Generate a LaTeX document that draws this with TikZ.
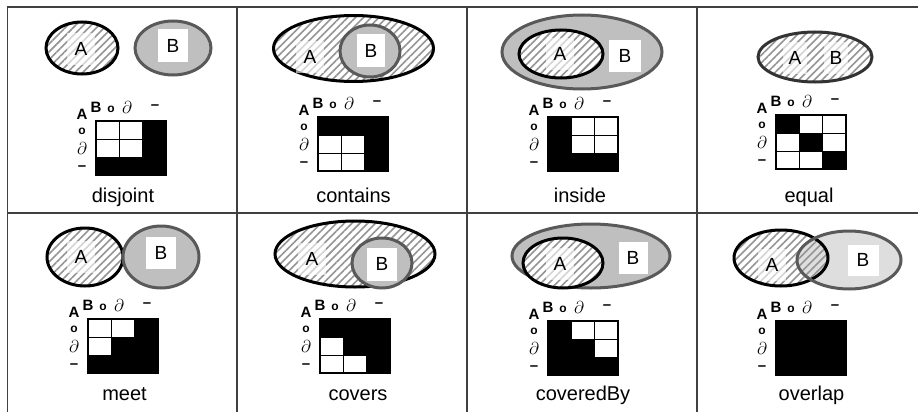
\documentclass[tikz,border=0pt]{standalone}
\usepackage{fontspec}
\setmainfont{Liberation Sans}
\usetikzlibrary{patterns.meta}

\tikzset{
  tableline/.style={line width=1.5pt, draw=black!75},
  bndA/.style={line width=3pt, draw=black},
  bndB/.style={line width=3pt, draw=black!65},
  hatch/.style={pattern={Lines[angle=45, distance=5.5pt, line width=1.6pt]}, pattern color=black!42},
  fillB/.style={fill=black!25},
  lblA/.style={fill=white, fill opacity=.6, text opacity=1, inner sep=0pt,
    minimum width=28pt, minimum height=32pt, font=\fontsize{19}{19}\selectfont},
  lblB/.style={fill=white, inner sep=0pt, minimum width=30pt, minimum height=33pt,
    font=\fontsize{19}{19}\selectfont},
  caption/.style={anchor=base, inner sep=0pt, font=\fontsize{20}{20}\selectfont},
  mlbl/.style={inner sep=0pt, text height=11.5pt, text depth=0pt,
    font=\bfseries\fontsize{15}{15}\selectfont},
  mlblo/.style={inner sep=0pt, text height=7pt, text depth=0pt,
    font=\bfseries\fontsize{12}{12}\selectfont},
  mlbld/.style={inner sep=0pt, text height=14pt, text depth=0.3pt,
    font=\fontsize{19}{19}\selectfont},
  mlblm/.style={inner sep=0pt, text height=6pt, text depth=0pt,
    font=\bfseries\fontsize{15}{15}\selectfont},
}

% 9-intersection matrix: name, top left x, top left y, black cells col/row
\newcommand{\ninecells}[4]{%
  \begin{scope}[shift={(#2,#3)}]
    \node[mlbl]  (#1-cB) at (0,-14) {B};
    \node[mlblo] (#1-co) at (15,-12) {o};
    \node[mlbld] (#1-cd) at (31,-14) {$\partial$};
    \node[mlblm] (#1-cm) at (59,-15) {–};
    \node[mlbl]  (#1-rA) at (-14,-7) {A};
    \node[mlblo] (#1-ro) at (-14,10) {o};
    \node[mlbld] (#1-rd) at (-14,27) {$\partial$};
    \node[mlblm] (#1-rm) at (-14,46) {–};
    \begin{scope}[x=23.33pt, y=-18pt]
      \foreach \c/\r in {#4} \fill (\c-1,\r-1) rectangle ++(1,1);
      \foreach \i in {1,2} {
        \draw[line width=1pt] (\i,0) -- (\i,3);
        \draw[line width=1pt] (0,\i) -- (3,\i);
      }
      \draw[line width=1.3pt] (0,0) rectangle (3,3);
    \end{scope}
  \end{scope}
}

\begin{document}
\begin{tikzpicture}[x=1pt, y=-1pt]
  \useasboundingbox (0,0) rectangle (918,412);

  % table
  \draw[tableline] (7.5,412) -- (7.5,7) -- (918,7);
  \draw[tableline] (7.5,213) -- (918,213);
  \foreach \x in {237,467,697} \draw[tableline] (\x,7) -- (\x,412);

  % disjoint
  \fill[white] (82,48) ellipse [x radius=36pt, y radius=26pt];
  \fill[hatch] (82,48) ellipse [x radius=36pt, y radius=26pt];
  \draw[bndA] (82,48) ellipse [x radius=36pt, y radius=26pt];
  \filldraw[fillB, bndB] (173,48) ellipse [x radius=38pt, y radius=27pt];
  \node[lblA] (disA) at (81,49) {A};
  \node[lblB] (disB) at (173,46) {B};
  \ninecells{dis}{96}{121}{3/1,3/2,1/3,2/3,3/3}
  \node[caption] (discap) at (123,202) {disjoint};

  % contains
  \fill[white] (353.5,48.5) ellipse [x radius=80pt, y radius=33pt];
  \fill[hatch] (353.5,48.5) ellipse [x radius=80pt, y radius=33pt];
  \draw[bndA] (353.5,48.5) ellipse [x radius=80pt, y radius=33pt];
  \filldraw[fillB, bndB] (370,51) ellipse [x radius=30pt, y radius=26pt];
  \node[lblA] (conA) at (310,57) {A};
  \node[lblB, minimum width=28pt] (conB) at (371,50.5) {B};
  \ninecells{con}{318}{117}{1/1,2/1,3/1,3/2,3/3}
  \node[caption] (concap) at (353.5,202) {contains};

  % inside
  \filldraw[fillB, bndB] (582,52) ellipse [x radius=80pt, y radius=37pt];
  \fill[white] (561,54) ellipse [x radius=42pt, y radius=24pt];
  \fill[hatch] (561,54) ellipse [x radius=42pt, y radius=24pt];
  \draw[bndA] (561,54) ellipse [x radius=42pt, y radius=24pt];
  \node[lblA] (insA) at (560,54) {A};
  \node[lblB, minimum width=32pt, minimum height=32pt] (insB) at (625,56) {B};
  \ninecells{ins}{548}{117}{1/1,1/2,1/3,2/3,3/3}
  \node[caption] (inscap) at (580,202) {inside};

  % equal
  \fill[white] (815,57) ellipse [x radius=57pt, y radius=25pt];
  \fill[hatch] (815,57) ellipse [x radius=57pt, y radius=25pt];
  \draw[line width=3pt, draw=black!80] (815,57) ellipse [x radius=57pt, y radius=25pt];
  \node[lblA, minimum width=24pt] (equA) at (795,58) {A};
  \node[lblA, minimum width=24pt] (equB) at (836,58) {B};
  \ninecells{equ}{776}{115}{1/1,2/2,3/3}
  \node[caption] (equcap) at (809,202) {equal};

  % meet
  \fill[white] (85,257) ellipse [x radius=38pt, y radius=29pt];
  \fill[hatch] (85,257) ellipse [x radius=38pt, y radius=29pt];
  \draw[bndA] (85,257) ellipse [x radius=38pt, y radius=29pt];
  \filldraw[fillB, bndB] (161,257) ellipse [x radius=38pt, y radius=31pt];
  \node[lblA] (meeA) at (81,257) {A};
  \node[lblB, minimum height=32pt] (meeB) at (161,253) {B};
  \ninecells{mee}{88}{319}{3/1,2/2,3/2,1/3,2/3,3/3}
  \node[caption] (meecap) at (124.5,400) {meet};

  % covers
  \fill[white] (355,254) ellipse [x radius=80pt, y radius=33pt];
  \fill[hatch] (355,254) ellipse [x radius=80pt, y radius=33pt];
  \draw[bndA] (355,254) ellipse [x radius=80pt, y radius=33pt];
  \filldraw[fillB, bndB] (382,263) ellipse [x radius=30pt, y radius=25pt];
  \node[lblA] (covA) at (312,259) {A};
  \node[lblB] (covB) at (382,264) {B};
  \ninecells{cov}{320}{319}{1/1,2/1,3/1,2/2,3/2,3/3}
  \node[caption] (covcap) at (358,400) {covers};

  % coveredBy
  \filldraw[fillB, bndB] (591,256) ellipse [x radius=79pt, y radius=32pt];
  \fill[white] (563,263) ellipse [x radius=40pt, y radius=25pt];
  \fill[hatch] (563,263) ellipse [x radius=40pt, y radius=25pt];
  \draw[bndA] (563,263) ellipse [x radius=40pt, y radius=25pt];
  \node[lblA] (cbyA) at (560,264) {A};
  \node[lblB, minimum width=29pt, minimum height=32pt] (cbyB) at (633,258) {B};
  \ninecells{cby}{548}{321}{1/1,1/2,2/2,1/3,2/3,3/3}
  \node[caption] (cbycap) at (583,400) {coveredBy};

  % overlap
  \fill[white] (781,258) ellipse [x radius=47pt, y radius=28pt];
  \fill[black!13] (849,260) ellipse [x radius=52pt, y radius=29pt];
  \fill[hatch] (781,258) ellipse [x radius=47pt, y radius=28pt];
  \draw[bndA] (781,258) ellipse [x radius=47pt, y radius=28pt];
  \draw[bndB] (849,260) ellipse [x radius=52pt, y radius=29pt];
  \node[lblA] (ovlA) at (772,265) {A};
  \node[lblB, minimum width=31pt, minimum height=31pt] (ovlB) at (863,260) {B};
  \ninecells{ovl}{776}{321}{1/1,2/1,3/1,1/2,2/2,3/2,1/3,2/3,3/3}
  \node[caption] (ovlcap) at (811.5,400) {overlap};
\end{tikzpicture}
\end{document}
